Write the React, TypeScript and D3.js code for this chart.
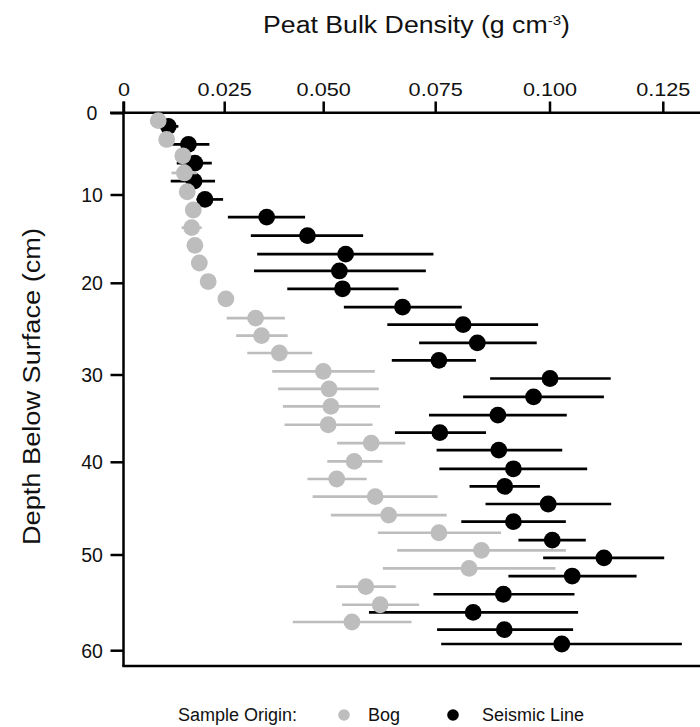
import React from "react";
import * as d3 from "d3";

// ---- data ----
const xTicks = [0, 0.025, 0.05, 0.075, 0.1, 0.125];
const xTickLabels = ["0", "0.025", "0.050", "0.075", "0.100", "0.125"];
const yTicks = [0, 10, 20, 30, 40, 50, 60];

const bogDepth = [0.9, 3.2, 5.2, 7.3, 9.6, 11.7, 13.7, 15.7, 17.7, 19.8, 21.7, 23.8, 25.7, 27.6, 29.6, 31.6, 33.6, 35.7, 37.8, 39.9, 41.8, 43.7, 45.7, 47.6, 49.5, 51.4, 53.3, 55.2, 57.0];
const bogMean = [0.0085, 0.0106, 0.0146, 0.015, 0.0157, 0.0172, 0.0168, 0.0176, 0.0187, 0.0209, 0.0253, 0.0328, 0.0343, 0.0388, 0.0499, 0.0512, 0.0516, 0.051, 0.0606, 0.0568, 0.0529, 0.0615, 0.0645, 0.0757, 0.085, 0.0823, 0.0594, 0.0626, 0.0563];
const bogLow = [0.008, 0.01, 0.013, 0.0118, 0.015, 0.0165, 0.0143, 0.017, 0.018, 0.02, 0.0245, 0.0255, 0.0279, 0.0307, 0.037, 0.0385, 0.0397, 0.0401, 0.053, 0.0508, 0.0459, 0.0472, 0.0516, 0.0621, 0.0664, 0.0632, 0.0528, 0.0541, 0.0422];
const bogHigh = [0.009, 0.0112, 0.016, 0.0181, 0.0165, 0.018, 0.0193, 0.0183, 0.0195, 0.0218, 0.0262, 0.0402, 0.0409, 0.0471, 0.0614, 0.0623, 0.0626, 0.0609, 0.0682, 0.0631, 0.0596, 0.0754, 0.0774, 0.0893, 0.1035, 0.1012, 0.0661, 0.0713, 0.0696];

const seisDepth = [1.6, 3.8, 6.1, 8.3, 10.5, 12.5, 14.6, 16.7, 18.6, 20.6, 22.6, 24.5, 26.5, 28.4, 30.4, 32.5, 34.6, 36.6, 38.6, 40.7, 42.6, 44.5, 46.4, 48.4, 50.3, 52.2, 54.1, 56.0, 57.8, 59.3];
const seisMean = [0.011, 0.016, 0.0176, 0.0174, 0.0201, 0.0356, 0.0459, 0.0549, 0.0535, 0.0542, 0.0676, 0.081, 0.0841, 0.0757, 0.1, 0.0964, 0.0886, 0.0759, 0.0888, 0.092, 0.0901, 0.0996, 0.092, 0.1005, 0.1119, 0.1049, 0.0898, 0.0832, 0.09, 0.1026];
const seisLow = [0.0089, 0.0117, 0.0131, 0.0116, 0.018, 0.0258, 0.0316, 0.0332, 0.0324, 0.0408, 0.0545, 0.0642, 0.0713, 0.0652, 0.0869, 0.081, 0.0735, 0.0659, 0.0752, 0.0758, 0.0824, 0.0859, 0.0806, 0.0931, 0.0985, 0.0909, 0.0745, 0.0601, 0.0753, 0.0762];
const seisHigh = [0.0135, 0.0212, 0.0218, 0.0226, 0.0246, 0.0453, 0.0588, 0.0745, 0.0728, 0.0667, 0.0807, 0.0974, 0.0971, 0.0838, 0.1134, 0.1119, 0.1037, 0.086, 0.1027, 0.1082, 0.0978, 0.1135, 0.1035, 0.1079, 0.1252, 0.1191, 0.1054, 0.1062, 0.1051, 0.1291];

const seriesNames = ["Bog", "Seismic Line"];
const seriesColors = ["#bdbdbd", "#000000"];

// ---- layout ----
const W = 700;
const H = 727;
const FONT = "'Liberation Sans', Arial, Helvetica, sans-serif";
const TOP = 112.7;
const LEFT = 123.5;
const BOTTOM = 666;

const x = d3.scaleLinear().domain(xTicks).range([124, 224.7, 323.7, 435.7, 550, 663.3]);
const y = d3.scaleLinear().domain(yTicks).range([113.3, 195, 283.3, 375, 462.3, 555, 650.7]);

type Pt = { d: number; m: number; lo: number; hi: number };
const zip = (d: number[], m: number[], lo: number[], hi: number[]): Pt[] =>
  d.map((v, i) => ({ d: v, m: m[i], lo: lo[i], hi: hi[i] }));

const series = [
  { name: seriesNames[0], color: seriesColors[0], pts: zip(bogDepth, bogMean, bogLow, bogHigh) },
  { name: seriesNames[1], color: seriesColors[1], pts: zip(seisDepth, seisMean, seisLow, seisHigh) },
];

export default function App() {
  const drawOrder = [series[1], series[0]];
  return (
    <svg
      width={W}
      height={H}
      style={{ position: "absolute", left: 0, top: 0, background: "#fff" }}
      fontFamily={FONT}
    >
      <rect x={0} y={0} width={W} height={H} fill="#fff" />
      {/* title */}
      <text x={263} y={33} fontSize={23} fill="#111" textLength={307} lengthAdjust="spacingAndGlyphs">
        Peat Bulk Density (g cm
        <tspan dy={-8} fontSize={13}>-3</tspan>
        <tspan dy={8}>)</tspan>
      </text>
      {/* y title */}
      <text
        transform={`translate(40,545) rotate(-90)`}
        fontSize={23}
        fill="#111"
        textLength={317}
        lengthAdjust="spacingAndGlyphs"
      >
        Depth Below Surface (cm)
      </text>

      {/* axes lines */}
      <line x1={110} x2={W} y1={TOP} y2={TOP} stroke="#000" strokeWidth={2.5} />
      <line x1={LEFT} x2={LEFT} y1={101.5} y2={BOTTOM} stroke="#000" strokeWidth={2.5} />
      <line x1={LEFT - 1.2} x2={W} y1={BOTTOM} y2={BOTTOM} stroke="#000" strokeWidth={2.5} />

      {/* x ticks */}
      {xTicks.map((t, i) => (
        <g key={"xt" + i}>
          <line x1={x(t)} x2={x(t)} y1={101.5} y2={TOP} stroke="#000" strokeWidth={2.5} />
          <text
            transform={`translate(${x(t)},96) scale(1.14,1)`}
            textAnchor="middle"
            fontSize={19}
            fill="#111"
          >
            {xTickLabels[i]}
          </text>
        </g>
      ))}
      {/* y ticks */}
      {yTicks.map((t, i) => (
        <g key={"yt" + i}>
          <line x1={110.5} x2={LEFT} y1={y(t)} y2={y(t)} stroke="#000" strokeWidth={2.5} />
          <text x={92} y={y(t)} dy="0.36em" textAnchor="middle" fontSize={19.5} fill="#111">
            {t}
          </text>
        </g>
      ))}

      {/* data */}
      {drawOrder.map((s) => (
        <g key={s.name}>
          {s.pts.map((p, i) => (
            <line
              key={"e" + i}
              x1={x(p.lo)}
              x2={x(p.hi)}
              y1={y(p.d)}
              y2={y(p.d)}
              stroke={s.color}
              strokeWidth={2.7}
            />
          ))}
          {s.pts.map((p, i) => (
            <circle key={"c" + i} cx={x(p.m)} cy={y(p.d)} r={8.4} fill={s.color} />
          ))}
        </g>
      ))}

      {/* legend */}
      <g fontSize={18} fill="#111">
        <text x={178} y={721}>Sample Origin:</text>
        <circle cx={344} cy={715} r={5.8} fill={seriesColors[0]} />
        <text x={368} y={721}>{seriesNames[0]}</text>
        <circle cx={453} cy={715} r={5.8} fill={seriesColors[1]} />
        <text x={482} y={721}>{seriesNames[1]}</text>
      </g>
    </svg>
  );
}
